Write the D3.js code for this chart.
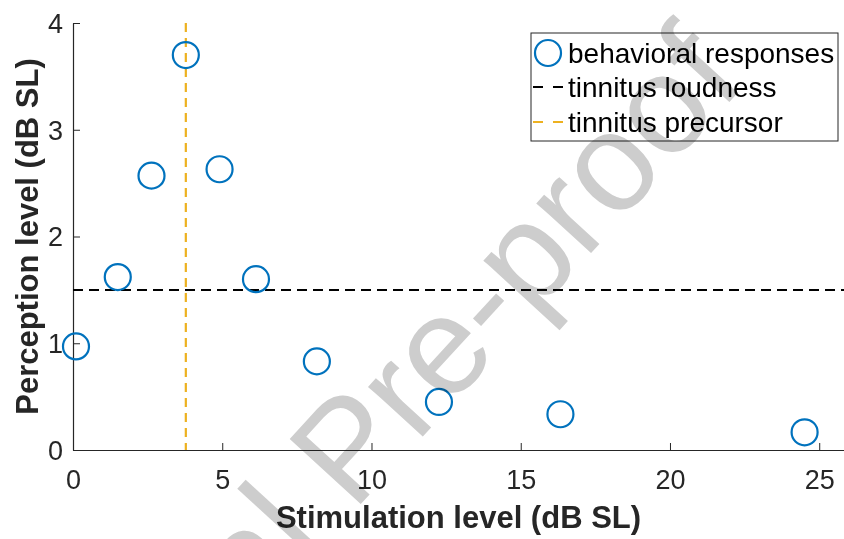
<!DOCTYPE html>
<html>
<head>
<meta charset="utf-8">
<script src="https://cdn.jsdelivr.net/npm/d3@7"></script>
<style>
  html, body { margin: 0; padding: 0; background: #fff; }
  svg { display: block; font-family: "Liberation Sans", Arial, Helvetica, sans-serif; }
</style>
</head>
<body>
<svg id="chart" width="844" height="539"></svg>
<script>
// Stimulation level (dB SL) and perceived level (dB SL) for each behavioral response
const stimulation = [0.1, 1.5, 2.63, 3.78, 4.91, 6.13, 8.17, 12.26, 16.33, 24.51];
const perception  = [0.97, 1.62, 2.57, 3.70, 2.63, 1.60, 0.83, 0.45, 0.335, 0.166];

// Reference levels
const tinnitusLoudness = 1.5;   // horizontal line (perception level)
const tinnitusPrecursor = 3.78; // vertical line (stimulation level)

const xTicks = [0, 5, 10, 15, 20, 25];
const yTicks = [0, 1, 2, 3, 4];

const legendLabels = ["behavioral responses", "tinnitus loudness", "tinnitus precursor"];

const W = 844, H = 539;
const margin = { left: 73, right: 0, top: 23, bottom: 89 };

const blue = "#0072BD", orange = "#EDB120", ink = "#262626";

const svg = d3.select("#chart");

const x = d3.scaleLinear().domain([0, 25.83]).range([margin.left, W - margin.right]);
const y = d3.scaleLinear().domain([0, 4]).range([H - margin.bottom, margin.top]);

// Axes with inward ticks
const xAxis = svg.append("g")
  .attr("transform", `translate(0,${y(0)})`)
  .call(d3.axisBottom(x).tickValues(xTicks).tickFormat(d3.format("d"))
    .tickSize(-7).tickPadding(20).tickSizeOuter(0));
const yAxis = svg.append("g")
  .attr("transform", `translate(${x(0)},0)`)
  .call(d3.axisLeft(y).tickValues(yTicks).tickFormat(d3.format("d"))
    .tickSize(-7).tickPadding(10).tickSizeOuter(0));

[xAxis, yAxis].forEach(g => {
  g.select(".domain").attr("stroke", ink).attr("stroke-width", 1.2);
  g.selectAll(".tick line").attr("stroke", ink).attr("stroke-width", 1);
  g.selectAll(".tick text").attr("fill", ink).attr("font-size", 27)
    .attr("font-family", "'Liberation Sans', Arial, Helvetica, sans-serif");
});
xAxis.selectAll(".tick text").attr("dy", "0.71em");
yAxis.selectAll(".tick text").attr("dy", "0.35em");

// Axis titles
svg.append("text")
  .attr("x", (x.range()[0] + x.range()[1]) / 2)
  .attr("y", 528)
  .attr("text-anchor", "middle")
  .attr("font-size", 31).attr("font-weight", "bold").attr("fill", ink)
  .text("Stimulation level (dB SL)");

svg.append("text")
  .attr("transform", `translate(38,${(y.range()[0] + y.range()[1]) / 2}) rotate(-90)`)
  .attr("text-anchor", "middle")
  .attr("font-size", 31).attr("font-weight", "bold").attr("fill", ink)
  .text("Perception level (dB SL)");

// Reference lines
svg.append("line")
  .attr("x1", x.range()[0]).attr("x2", x.range()[1])
  .attr("y1", y(tinnitusLoudness)).attr("y2", y(tinnitusLoudness))
  .attr("stroke", "#000").attr("stroke-width", 2).attr("stroke-dasharray", "10,6");

svg.append("line")
  .attr("x1", x(tinnitusPrecursor)).attr("x2", x(tinnitusPrecursor))
  .attr("y1", y(4)).attr("y2", y(0))
  .attr("stroke", orange).attr("stroke-width", 2.2).attr("stroke-dasharray", "9,6");

// Behavioral responses
svg.append("g").selectAll("circle")
  .data(d3.zip(stimulation, perception))
  .join("circle")
  .attr("cx", d => x(d[0]))
  .attr("cy", d => y(d[1]))
  .attr("r", 13)
  .attr("fill", "none")
  .attr("stroke", blue)
  .attr("stroke-width", 2.2);

// Legend
const lg = svg.append("g").attr("transform", "translate(531,33)");
lg.append("rect").attr("width", 307).attr("height", 108)
  .attr("fill", "#fff").attr("stroke", ink).attr("stroke-width", 1);
const rowY = [20, 54, 89];
lg.append("circle").attr("cx", 17).attr("cy", rowY[0]).attr("r", 13)
  .attr("fill", "none").attr("stroke", blue).attr("stroke-width", 2.2);
lg.append("line").attr("x1", 2).attr("x2", 34).attr("y1", rowY[1]).attr("y2", rowY[1])
  .attr("stroke", "#000").attr("stroke-width", 2).attr("stroke-dasharray", "10,10");
lg.append("line").attr("x1", 2).attr("x2", 34).attr("y1", rowY[2]).attr("y2", rowY[2])
  .attr("stroke", orange).attr("stroke-width", 2.2).attr("stroke-dasharray", "10,10");
lg.selectAll("text.lbl").data(legendLabels).join("text")
  .attr("class", "lbl")
  .attr("x", 37)
  .attr("y", (d, i) => rowY[i] + 10)
  .attr("font-size", 28).attr("fill", "#000")
  .text(d => d);

// Journal watermark
svg.append("text")
  .attr("transform", "translate(382,481) rotate(-47.5)")
  .attr("text-anchor", "middle")
  .attr("font-size", 140)
  .attr("fill", "#cdcdcd")
  .style("mix-blend-mode", "multiply")
  .text("Journal Pre-proof");
</script>
</body>
</html>
